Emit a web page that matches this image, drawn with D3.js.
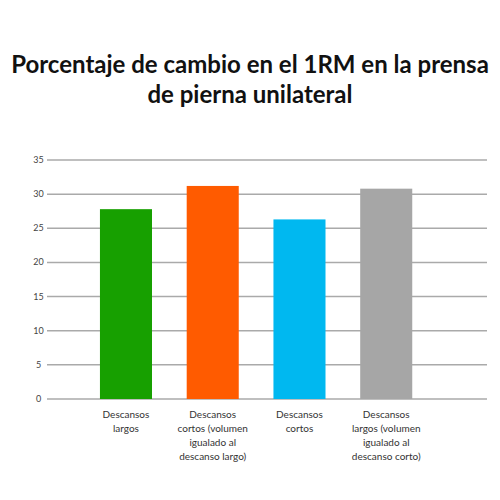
<!DOCTYPE html>
<html>
<head>
<meta charset="utf-8">
<script src="https://cdn.jsdelivr.net/npm/d3@7"></script>
<style>
  body { margin: 0; background: #fff; }
  text { font-family: Lato, "Open Sans", sans-serif; }
</style>
</head>
<body>
<svg id="chart" width="500" height="500"></svg>
<script>
// data
const categories = [
  ["Descansos", "largos"],
  ["Descansos", "cortos (volumen", "igualado al", "descanso largo)"],
  ["Descansos", "cortos"],
  ["Descansos", "largos (volumen", "igualado al", "descanso corto)"]
];
const values = [27.8, 31.2, 26.3, 30.8];
const colors = ["#17a000", "#ff5b00", "#00b8f0", "#a6a6a6"];
const yTicks = [0, 5, 10, 15, 20, 25, 30, 35];
const titleLines = [
  "Porcentaje de cambio en el 1RM en la prensa",
  "de pierna unilateral"
];

const svg = d3.select("#chart");

// title
svg.selectAll("text.title")
  .data(titleLines)
  .enter()
  .append("text")
  .attr("class", "title")
  .attr("x", 250)
  .attr("y", (d, i) => 73 + i * 30)
  .attr("text-anchor", "middle")
  .attr("font-size", 24)
  .attr("font-weight", 700)
  .attr("fill", "#111")
  .text((d) => d);

const yScale = d3.scaleLinear().domain([0, 35]).range([399, 160]);
const xScale = d3
  .scaleBand()
  .domain(d3.range(categories.length))
  .range([82.6, 429.6])
  .paddingInner(0.4)
  .paddingOuter(0.2);

// gridlines
svg.selectAll("line.grid")
  .data(yTicks)
  .enter()
  .append("line")
  .attr("class", "grid")
  .attr("x1", 47)
  .attr("x2", 487)
  .attr("y1", (d) => yScale(d))
  .attr("y2", (d) => yScale(d))
  .attr("stroke", "#aaa")
  .attr("stroke-width", 1.5);

// tick labels
svg.selectAll("text.tick")
  .data(yTicks)
  .enter()
  .append("text")
  .attr("class", "tick")
  .attr("x", 38.5)
  .attr("y", (d) => yScale(d) + 3)
  .attr("text-anchor", "middle")
  .attr("font-size", 9)
  .attr("fill", "#444")
  .text((d) => d);

// bars
svg.selectAll("rect.bar")
  .data(values)
  .enter()
  .append("rect")
  .attr("class", "bar")
  .attr("x", (d, i) => xScale(i))
  .attr("y", (d) => yScale(d))
  .attr("width", xScale.bandwidth())
  .attr("height", (d) => yScale(0) - yScale(d))
  .attr("fill", (d, i) => colors[i]);

// category labels
const labels = svg.selectAll("text.cat")
  .data(categories)
  .enter()
  .append("text")
  .attr("class", "cat")
  .attr("text-anchor", "middle")
  .attr("font-size", 10)
  .attr("fill", "#333");
labels.selectAll("tspan")
  .data((d, i) => d.map((t) => ({ t: t, i: i })))
  .enter()
  .append("tspan")
  .attr("x", (d) => xScale(d.i) + xScale.bandwidth() / 2)
  .attr("y", (d, j) => 418 + j * 14)
  .text((d) => d.t);
</script>
</body>
</html>
